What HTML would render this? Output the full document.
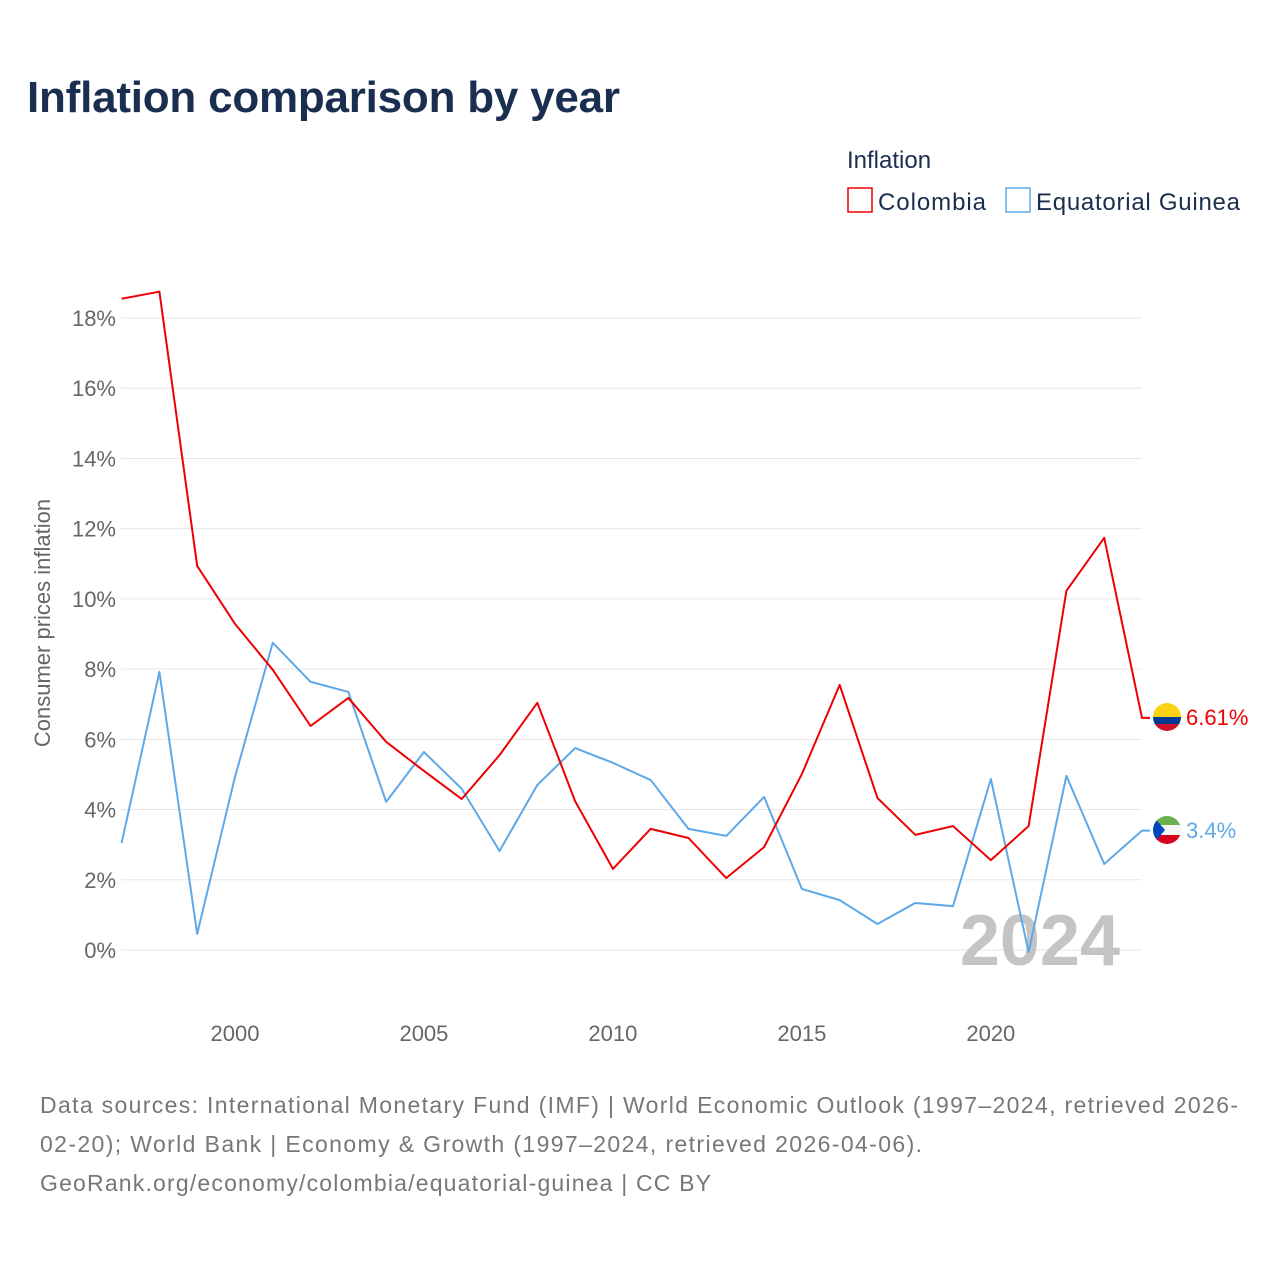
<!DOCTYPE html>
<html><head><meta charset="utf-8"><style>
body{margin:0;background:#fff;font-family:"Liberation Sans",sans-serif;}
svg text{font-family:"Liberation Sans",sans-serif;}
</style></head><body>
<svg id="chart" width="1280" height="1280" xmlns="http://www.w3.org/2000/svg">
<text x="27" y="112" font-size="44" font-weight="bold" fill="#1a2e4f" textLength="593">Inflation comparison by year</text>
<text x="847" y="168" font-size="24" fill="#1a2e4f">Inflation</text>
<g><rect x="848" y="188" width="24" height="24" fill="none" stroke="#ee0000" stroke-width="1.5"/><text x="878" y="210" font-size="24" fill="#1a2e4f" textLength="108">Colombia</text></g>
<g><rect x="1006" y="188" width="24" height="24" fill="none" stroke="#5fa8e8" stroke-width="1.5"/><text x="1036" y="210" font-size="24" fill="#1a2e4f" textLength="204">Equatorial Guinea</text></g>
<g id="grid"></g><g id="yt"></g><g id="xt"></g>
<text transform="translate(50,623) rotate(-90)" text-anchor="middle" font-size="22" fill="#666">Consumer prices inflation</text>
<text x="1120" y="965" text-anchor="end" font-size="72" font-weight="bold" fill="#c4c4c4">2024</text>
<g id="lines"></g>
<g><clipPath id="c1"><circle cx="1167" cy="717" r="14"/></clipPath><g clip-path="url(#c1)"><rect x="1153" y="703" width="28" height="14" fill="#fcd116"/><rect x="1153" y="717" width="28" height="7" fill="#003893"/><rect x="1153" y="724" width="28" height="7" fill="#ce1126"/></g></g>
<g><clipPath id="c2"><circle cx="1167" cy="830" r="14"/></clipPath><g clip-path="url(#c2)"><rect x="1153" y="816" width="28" height="9" fill="#6ab04c"/><rect x="1153" y="825" width="28" height="10" fill="#f4f4f4"/><rect x="1153" y="835" width="28" height="9" fill="#d6001c"/><polygon points="1153,816 1165,830 1153,844" fill="#0046be"/></g></g>
<text x="1186" y="725" font-size="22" fill="#ee0000">6.61%</text>
<text x="1186" y="838" font-size="22" fill="#5fa8e8">3.4%</text>
<text font-size="23" fill="#777"><tspan x="40" y="1113" textLength="1198">Data sources: International Monetary Fund (IMF) | World Economic Outlook (1997–2024, retrieved 2026-</tspan><tspan x="40" y="1152" textLength="882">02-20); World Bank | Economy &amp; Growth (1997–2024, retrieved 2026-04-06).</tspan><tspan x="40" y="1191" textLength="671">GeoRank.org/economy/colombia/equatorial-guinea | CC BY</tspan></text>
</svg>
<script>
const years=[1997,1998,1999,2000,2001,2002,2003,2004,2005,2006,2007,2008,2009,2010,2011,2012,2013,2014,2015,2016,2017,2018,2019,2020,2021,2022,2023,2024];
const colombia=[18.55,18.75,10.94,9.29,7.98,6.38,7.18,5.93,5.10,4.30,5.55,7.04,4.24,2.31,3.45,3.19,2.05,2.93,5.01,7.55,4.33,3.28,3.53,2.56,3.53,10.23,11.74,6.61];
const eqGuinea=[3.05,7.92,0.46,4.93,8.75,7.64,7.35,4.22,5.64,4.59,2.82,4.70,5.75,5.33,4.84,3.45,3.25,4.36,1.74,1.42,0.74,1.34,1.25,4.87,-0.06,4.96,2.45,3.4];
const yTicks=[0,2,4,6,8,10,12,14,16,18];
const xTicks=[2000,2005,2010,2015,2020];
const NS="http://www.w3.org/2000/svg";
const x=v=>121.6+(v-1997)*(1142-121.6)/27;
const y=v=>950-v*35.11;
function mk(t,a,p){const e=document.createElementNS(NS,t);for(const k in a)e.setAttribute(k,a[k]);document.getElementById(p).appendChild(e);return e;}
yTicks.forEach(t=>{
 const l=mk('line',{x1:121,x2:1142,y1:y(t),y2:y(t),stroke:'#e6e6e6','stroke-width':1},'grid');
 
 
 const tx=mk('text',{x:116,y:y(t)+8,'text-anchor':'end','font-size':22,fill:'#666'},'yt');
 tx.textContent=t+'%';
 
 
});
xTicks.forEach(t=>{
 const tx=mk('text',{x:x(t),y:1041,'text-anchor':'middle','font-size':22,fill:'#666'},'xt');
 tx.textContent=t;
 
 
});
function line(d,c,n){
 let pts=d.map((v,i)=>x(years[i])+','+y(v));
 pts.push((x(years[years.length-1])+8)+','+y(d[d.length-1]));
 const p=mk('polyline',{points:pts.join(' '),fill:'none',stroke:c,'stroke-width':2,'stroke-linejoin':'round'},'lines');
 
 
}
line(eqGuinea,'#5fa8e8','line-equatorial-guinea');
line(colombia,'#ee0000','line-colombia');
</script>
</body></html>
